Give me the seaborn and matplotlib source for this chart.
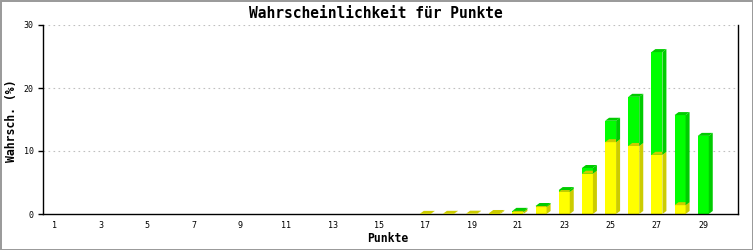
import matplotlib
matplotlib.use("Agg")
import matplotlib.pyplot as plt
from matplotlib.patches import Rectangle, Polygon
import seaborn as sns

# ---- data ----
punkte = list(range(1, 30))
gelb = [0]*16 + [0.02, 0.03, 0.05, 0.16, 0.3, 1.1, 3.5, 6.4, 11.4, 10.8, 9.4, 1.4, 0.0]
gruen = [0]*19 + [0.0, 0.2, 0.17, 0.3, 0.9, 3.4, 7.8, 16.3, 14.3, 12.4]
gesamt = [g + h for g, h in zip(gelb, gruen)]
yticks = [0, 10, 20, 30]
xtick_labels = list(range(1, 30, 2))

title = "Wahrscheinlichkeit für Punkte"
xlabel = "Punkte"
ylabel = "Wahrsch. (%)"

sns.set_style("white")
plt.rcParams['font.family'] = ['DejaVu Sans Mono', 'DejaVu Sans']
plt.rcParams['text.color'] = 'black'

W, H = 753, 250
fig = plt.figure(figsize=(W/100, H/100), dpi=100)
ax = fig.add_axes([43/W, 36/H, (738-43)/W, (214-25)/H])

bw = 0.475

def bars(vals, color):
    n0 = len(ax.patches)
    sns.barplot(x=punkte, y=vals, color=color, width=bw, native_scale=True,
                errorbar=None, saturation=1, linewidth=0, ax=ax)
    new = ax.patches[n0:]
    for p in new:
        p.set_edgecolor("none")
        p.set_zorder(4)
    return new

front_total = bars(gesamt, "#00ff00")
front_gelb = bars(gelb, "#ffff00")

ax.set_xlim(0.5, 30.5)
ax.set_ylim(0, 30)

# 3D side/top faces in pixel space
dx, dy = 4, 3
def depth_faces(x0, x1, b, t, color):
    (X0, B), = ax.transData.transform([(x0, b)])
    (X1, T), = ax.transData.transform([(x1, t)])
    side = [(X1, B), (X1 + dx, B + dy), (X1 + dx, T + dy), (X1, T)]
    top = [(X0, T), (X0 + dx, T + dy), (X1 + dx, T + dy), (X1, T)]
    for pts in (side, top):
        fig.patches.append(Polygon(pts, closed=True, transform=None,
                                   facecolor=color, edgecolor="none", zorder=3))

for pg, pt, g, tot in zip(front_gelb, front_total, gelb, gesamt):
    x0 = pt.get_x(); x1 = x0 + pt.get_width()
    if g > 0:
        depth_faces(x0, x1, 0, g, "#cccc00")
for pg, pt, g, tot in zip(front_gelb, front_total, gelb, gesamt):
    x0 = pt.get_x(); x1 = x0 + pt.get_width()
    if tot - g > 0:
        depth_faces(x0, x1, g, tot, "#00cc00")

ax.set_yticks(yticks)
ax.set_yticklabels([str(v) for v in yticks], fontsize=6, color="black")
ax.set_xticks(xtick_labels)
ax.set_xticklabels([str(v) for v in xtick_labels], fontsize=6, color="black")
ax.tick_params(axis="y", length=3.6, width=1, color="black", direction="out", pad=3, left=True)
ax.tick_params(axis="x", length=0, pad=5)

for v in yticks[1:]:
    ax.axhline(v, color="#c0c0c0", lw=0.8, ls=(0, (1.5, 3)), zorder=1)

for s in ["left", "bottom", "right"]:
    ax.spines[s].set_visible(True)
    ax.spines[s].set_color("black")
    ax.spines[s].set_linewidth(1)
    ax.spines[s].set_zorder(5)
ax.spines["top"].set_visible(False)
ax.set_xlabel("")
ax.set_ylabel("")
ax.patch.set_alpha(0)
fig.patch.set_facecolor("white")

fig.text(376/W, 1 - 13/H, title, ha="center", va="center", fontsize=10.5, fontweight="bold", color="black")
fig.text(388/W, 1 - 239/H, xlabel, ha="center", va="center", fontsize=8.3, fontweight="bold", color="black")
fig.text(12/W, 1 - 121/H, ylabel, ha="center", va="center", fontsize=8.3, fontweight="bold", rotation=90, color="black")

fig.patches.append(Rectangle((0.5/W, 0.5/H), 1 - 1/W, 1 - 1/H, transform=fig.transFigure,
                             fill=False, edgecolor="#999999", lw=1.4))

fig.savefig("out.png", dpi=100)
